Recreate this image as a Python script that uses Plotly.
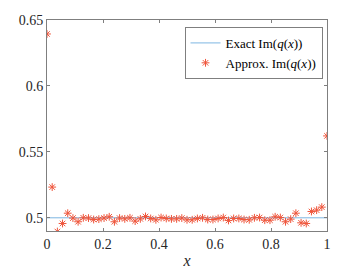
import numpy as np
import plotly.graph_objects as go

# Data
x_exact = [0.0, 1.0]
y_exact = [0.5, 0.5]

n_points = 55
x_approx = list(np.linspace(0.0, 1.0, n_points))
y_approx = [
    0.6394, 0.5233, 0.4896, 0.4957, 0.5035, 0.4998, 0.4970, 0.5000, 0.4998, 0.4987,
    0.4990, 0.4998, 0.5008, 0.4970, 0.4998, 0.4992, 0.5000, 0.4975, 0.4992, 0.5010,
    0.4995, 0.4985, 0.5002, 0.4995, 0.4992, 0.4992, 0.4998, 0.4985, 0.4985, 0.4995,
    0.5000, 0.4987, 0.4987, 0.4995, 0.5002, 0.4980, 0.4995, 0.4995, 0.4987, 0.4985,
    0.5000, 0.5002, 0.4982, 0.4982, 0.5008, 0.5002, 0.4970, 0.4990, 0.5035, 0.4962,
    0.4957, 0.5048, 0.5058, 0.5081, 0.5621,
]

x_ticks = [0, 0.2, 0.4, 0.6, 0.8, 1]
x_ticklabels = ["0", "0.2", "0.4", "0.6", "0.8", "1"]
y_ticks = [0.5, 0.55, 0.6, 0.65]
y_ticklabels = ["0.5", "0.55", "0.6", "0.65"]

font_family = "Liberation Serif"
axis_color = "#7f7f7f"
text_color = "#262626"

fig = go.Figure()
fig.add_trace(go.Scatter(
    x=x_exact, y=y_exact, mode="lines",
    line=dict(color="#7db6e2", width=1),
    name="Exact Im(<i>q</i>(<i>x</i>))",
))
fig.add_trace(go.Scatter(
    x=x_approx, y=y_approx, mode="markers",
    marker=dict(symbol="asterisk-open", size=6.5,
                line=dict(color="rgba(255,40,40,0.8)", width=1)),
    name="Approx. Im(<i>q</i>(<i>x</i>))",
))

axis_common = dict(
    showgrid=False, zeroline=False, automargin=False,
    showline=True, linecolor=axis_color, linewidth=1,
    mirror="allticks", ticks="inside", ticklen=3, tickcolor=axis_color,
    tickfont=dict(family=font_family, size=14, color=text_color),
)

fig.update_xaxes(
    range=[0, 1], tickvals=x_ticks, ticktext=x_ticklabels,
    title=dict(text="<i>x</i>", font=dict(family=font_family, size=16, color=text_color), standoff=4),
    **axis_common,
)
fig.update_yaxes(
    range=[0.49, 0.65], tickvals=y_ticks, ticktext=y_ticklabels,
    **axis_common,
)

fig.update_layout(
    width=362, height=272,
    margin=dict(l=47, r=35, t=20, b=41),
    paper_bgcolor="white", plot_bgcolor="white",
    font=dict(family=font_family, size=12, color=text_color),
    showlegend=True,
    legend=dict(
        x=0.984, y=0.967, xanchor="right", yanchor="top",
        bgcolor="white", bordercolor=axis_color, borderwidth=1,
        font=dict(family=font_family, size=13, color="black"),
        itemwidth=30, tracegroupgap=0,
    ),
)

fig.write_html("out.html", config={"displayModeBar": False},
               post_script="document.body.style.margin='0';")
